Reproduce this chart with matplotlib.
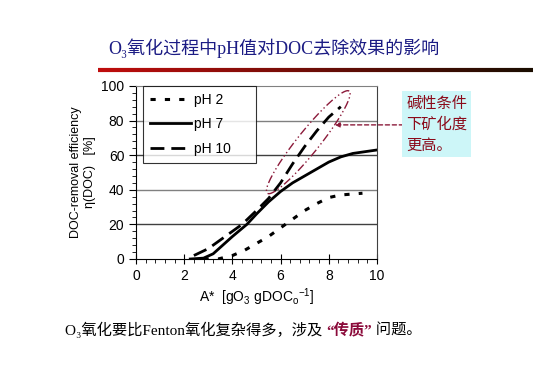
import matplotlib
matplotlib.use('Agg')
import matplotlib.pyplot as plt
import numpy as np
from matplotlib.collections import LineCollection
from matplotlib.ticker import MultipleLocator

# Datos
x_ph2 = [2.8, 3.4, 4.0, 4.5, 5.0, 5.5, 6.0, 6.5, 7.0, 7.5, 8.0, 8.5, 9.4]
y_ph2 = [0.0, 0.0, 2.0, 5.0, 9.0, 13.0, 18.0, 23.0, 28.0, 32.0, 35.5, 37.0, 38.0]

x_ph7 = [2.25, 2.8, 3.2, 3.6, 4.0, 4.6, 5.0, 5.5, 6.0, 6.5, 7.0, 7.5, 8.0, 8.5, 9.0, 9.5, 10.0]
y_ph7 = [0.0, 0.5, 3.0, 8.0, 13.0, 20.0, 26.0, 33.0, 39.0, 44.0, 48.0, 52.0, 56.0, 59.0, 61.0, 62.0, 63.0]

x_ph10 = [2.4, 3.0, 3.5, 4.0, 4.4, 5.0, 5.5, 6.0, 6.5, 7.0, 7.5, 8.0, 8.5]
y_ph10 = [2.0, 6.0, 11.0, 16.0, 20.0, 28.0, 35.0, 44.0, 55.0, 65.0, 74.0, 82.0, 88.0]

labels = ['pH 2', 'pH 7', 'pH 10']

titulo = 'O₃氧化过程中pH值对DOC去除效果的影响'
nota = '碱性条件\n下矿化度\n更高。'
rodape = ['O₃氧化要比Fenton氧化复杂得多，涉及 ', '“传质”', ' 问题。']

plt.rcParams['mathtext.fontset'] = 'custom'
plt.rcParams['mathtext.rm'] = 'Liberation Sans'
plt.rcParams['mathtext.it'] = 'Liberation Sans'
plt.rcParams['font.family'] = ['Liberation Sans', 'DejaVu Sans']

fig = plt.figure(figsize=(5.4, 3.82), dpi=100)
ax = fig.add_axes([0.252, 0.322, 0.446, 0.453])

# Curvas
ax.plot(x_ph2, y_ph2, color='black', linewidth=2.2, linestyle=(0, (1.7, 3.0)), label=labels[0])
ax.plot(x_ph7, y_ph7, color='black', linewidth=2.0, linestyle='-', label=labels[1])
ax.plot(x_ph10, y_ph10, color='black', linewidth=2.0, linestyle=(0, (5, 2.5)), label=labels[2])

ax.set_xlim(0, 10)
ax.set_ylim(0, 100)
ax.xaxis.set_major_locator(MultipleLocator(2))
ax.xaxis.set_minor_locator(MultipleLocator(0.4))
ax.yaxis.set_major_locator(MultipleLocator(20))
ax.yaxis.set_minor_locator(MultipleLocator(4))
ax.tick_params(which='major', direction='out', length=5, labelsize=10, width=0.8)
ax.tick_params(which='minor', direction='out', length=3, width=0.6)
ax.tick_params(axis='x', which='major', direction='inout', length=7)

# Grade horizontal
for yv in [20, 40, 60, 80]:
    ax.axhline(yv, color='#808080' if yv in (40, 80) else '#404040', linewidth=1.0, zorder=0)

ax.spines['top'].set_color('#808080')
ax.spines['right'].set_color('#404040')

ax.set_xlabel(r'A*  [gO$_3$ gDOC$_o$$^{-1}$]', fontsize=10, labelpad=3)
ax.set_ylabel('DOC-removal efficiency\nη(DOC)   [%]', fontsize=9, labelpad=4)

leg = ax.legend(loc='upper left', bbox_to_anchor=(0.028, 1.0, 0.47, 0), mode='expand',
                fontsize=10, frameon=True, fancybox=False, handlelength=3.0,
                handletextpad=0.2, labelspacing=0.75, borderpad=0.5, borderaxespad=0)
leg.get_frame().set_edgecolor('black')
leg.get_frame().set_linewidth(0.8)

# Elipse (anotação) desenhada em pixels e convertida para coordenadas do eixo
W, H = 0.446 * 540, 0.453 * 382
p0 = np.array([5.45 / 10 * W, 38 / 100 * H])
p1 = np.array([8.85 / 10 * W, 97 / 100 * H])
c = (p0 + p1) / 2
d = p1 - p0
a = np.linalg.norm(d) / 2
b = 11
ang = np.arctan2(d[1], d[0])
t = np.linspace(0, 2 * np.pi, 200)
ex = c[0] + a * np.cos(t) * np.cos(ang) - b * np.sin(t) * np.sin(ang)
ey = c[1] + a * np.cos(t) * np.sin(ang) + b * np.sin(t) * np.cos(ang)
ax.plot(ex / W, ey / H, transform=ax.transAxes, color='#8b1a3a', linewidth=1.0,
        linestyle=(0, (6, 2, 1, 2, 1, 2)), clip_on=False)

# Seta tracejada e caixa de texto
ax.annotate('', xy=(8.25, 77.5), xytext=(11.1, 77.5), xycoords='data',
            arrowprops=dict(arrowstyle='-|>', color='#8b1a3a', linestyle=(0, (3, 2)),
                            linewidth=1.0, mutation_scale=7, shrinkA=0, shrinkB=0),
            annotation_clip=False)
fig.text(0.752, 0.752, nota, fontsize=11, color='#8b0a1a', va='top', ha='left',
         family=['Noto Sans CJK SC', 'DejaVu Sans'], linespacing=1.3,
         bbox=dict(boxstyle='square,pad=0.25', facecolor='#cdf6f8', edgecolor='none'))

# Título
fig.text(0.2, 0.874, titulo, fontsize=13, color='#1c1c84', va='center', ha='left',
         family=['Liberation Serif', 'DejaVu Serif', 'Noto Sans CJK SC'])

# Linha degradê sob o título
xs = np.linspace(0.182, 0.987, 120)
segs = [[(xs[i], 0.817), (xs[i + 1], 0.817)] for i in range(len(xs) - 1)]
cores = [(0.75 * (1 - f) + 0.1 * f, 0.05, 0.05 * (1 - f)) for f in np.linspace(0, 1, len(segs))]
lc = LineCollection(segs, colors=cores, linewidths=3, transform=fig.transFigure)
fig.add_artist(lc)

# Rodapé com partes coloridas
fig.canvas.draw()
r = fig.canvas.get_renderer()
xpos = 0.12
cores_rodape = ['black', '#8b0a3a', 'black']
for parte, cor in zip(rodape, cores_rodape):
    tx = fig.text(xpos, 0.136, parte, fontsize=11, color=cor, va='center', ha='left',
                  family=['Liberation Serif', 'DejaVu Serif', 'Noto Sans CJK SC'],
                  weight='bold' if cor != 'black' else 'normal')
    bb = tx.get_window_extent(renderer=r)
    xpos += bb.width / fig.bbox.width

fig.savefig('out.png', dpi=100)
